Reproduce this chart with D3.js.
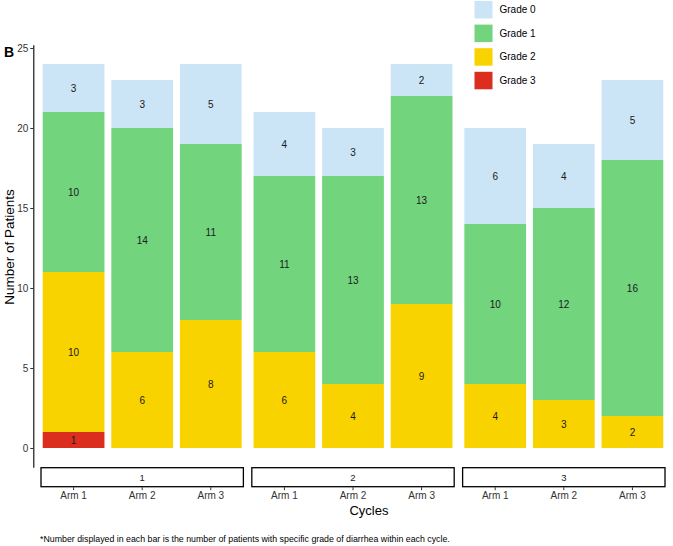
<!DOCTYPE html>
<html>
<head>
<meta charset="utf-8">
<script src="https://cdn.jsdelivr.net/npm/d3@7"></script>
<style>
  body { margin: 0; background: #fff; }
  svg { display: block; font-family: "Liberation Sans", Arial, sans-serif; }
</style>
</head>
<body>
<svg id="chart" width="673" height="546"></svg>
<script>
// data
var cycles = ["1", "2", "3"];
var arms = ["Arm 1", "Arm 2", "Arm 3"];
var grades = ["Grade 0", "Grade 1", "Grade 2", "Grade 3"];
var gradeColors = ["#cce5f6", "#72d47d", "#f8d300", "#dc2e1f"];
var yTicks = [0, 5, 10, 15, 20, 25];

// per cycle, per arm
var grade0 = [[3, 3, 5], [4, 3, 2], [6, 4, 5]];
var grade1 = [[10, 14, 11], [11, 13, 13], [10, 12, 16]];
var grade2 = [[10, 6, 8], [6, 4, 9], [4, 3, 2]];
var grade3 = [[1, 0, 0], [0, 0, 0], [0, 0, 0]];

var rows = [];
cycles.forEach(function(c, i) {
  arms.forEach(function(a, j) {
    rows.push({
      cycle: c, arm: a,
      "Grade 0": grade0[i][j], "Grade 1": grade1[i][j],
      "Grade 2": grade2[i][j], "Grade 3": grade3[i][j]
    });
  });
});

var svg = d3.select("#chart");
var color = d3.scaleOrdinal().domain(grades).range(gradeColors);

var facet = d3.scaleBand().domain(cycles).range([41, 665]).paddingInner(0.04);
var x = d3.scaleBand().domain(arms).range([0, facet.bandwidth()])
  .paddingInner(0.1).paddingOuter(0.025);
var y = d3.scaleLinear().domain([-1.2, 25.2]).range([467.2, 44.8]);

var series = d3.stack().keys(["Grade 3", "Grade 2", "Grade 1", "Grade 0"])(rows);

// bars
var g = svg.append("g");
series.forEach(function(s) {
  g.selectAll(null)
    .data(s.filter(function(d) { return d[1] > d[0]; }))
    .join("rect")
    .attr("x", function(d) { return facet(d.data.cycle) + x(d.data.arm); })
    .attr("width", x.bandwidth())
    .attr("y", function(d) { return y(d[1]); })
    .attr("height", function(d) { return y(d[0]) - y(d[1]); })
    .attr("fill", color(s.key));
});
series.forEach(function(s) {
  g.selectAll(null)
    .data(s.filter(function(d) { return d[1] > d[0]; }))
    .join("text")
    .attr("x", function(d) { return facet(d.data.cycle) + x(d.data.arm) + x.bandwidth() / 2; })
    .attr("y", function(d) { return y((d[0] + d[1]) / 2); })
    .attr("dy", "0.35em")
    .attr("text-anchor", "middle")
    .attr("font-size", 10)
    .attr("fill", "#1a1a1a")
    .text(function(d) { return d[1] - d[0]; });
});

// y axis
var yAxis = svg.append("g")
  .attr("transform", "translate(33.3,0)")
  .call(d3.axisLeft(y).tickValues(yTicks).tickSize(3).tickSizeOuter(0).tickPadding(2));
yAxis.select(".domain").attr("stroke", "#000").attr("stroke-width", 1.1);
yAxis.selectAll(".tick line").attr("stroke", "#333");
yAxis.selectAll(".tick text").attr("font-size", 10).attr("fill", "#333")
  .attr("font-family", "Liberation Sans, Arial, sans-serif");

// strips + x axis per facet
cycles.forEach(function(c) {
  var fx = facet(c);
  svg.append("rect")
    .attr("x", fx).attr("y", 467.7)
    .attr("width", facet.bandwidth()).attr("height", 19)
    .attr("fill", "#fff").attr("stroke", "#000").attr("stroke-width", 1.3);
  svg.append("text")
    .attr("x", fx + facet.bandwidth() / 2).attr("y", 477.2)
    .attr("dy", "0.35em").attr("text-anchor", "middle")
    .attr("font-size", 9.5).attr("fill", "#1a1a1a")
    .text(c);
  var xa = svg.append("g")
    .attr("transform", "translate(" + fx + ",487.2)")
    .call(d3.axisBottom(x).tickSize(3).tickPadding(2));
  xa.select(".domain").remove();
  xa.selectAll(".tick line").attr("stroke", "#333");
  xa.selectAll(".tick text").attr("font-size", 10).attr("fill", "#333")
    .attr("font-family", "Liberation Sans, Arial, sans-serif");
});

// titles
svg.append("text")
  .attr("x", 369).attr("y", 514.5)
  .attr("text-anchor", "middle").attr("font-size", 13).attr("fill", "#000")
  .text("Cycles");

svg.append("text")
  .attr("transform", "translate(14,247) rotate(-90)")
  .attr("text-anchor", "middle").attr("font-size", 13.5).attr("fill", "#000")
  .text("Number of Patients");

svg.append("text")
  .attr("x", 4).attr("y", 56.7)
  .attr("font-size", 14).attr("font-weight", "bold")
  .text("B");

svg.append("text")
  .attr("x", 40).attr("y", 542)
  .attr("font-size", 8.8).attr("fill", "#000")
  .text("*Number displayed in each bar is the number of patients with specific grade of diarrhea within each cycle.");

// legend
var legend = svg.append("g").attr("transform", "translate(474.5,1)");
grades.forEach(function(k, i) {
  legend.append("rect")
    .attr("x", 0).attr("y", i * 23.6)
    .attr("width", 18).attr("height", 17.5)
    .attr("fill", color(k));
  legend.append("text")
    .attr("x", 25).attr("y", i * 23.6 + 8.75)
    .attr("dy", "0.35em").attr("font-size", 10).attr("fill", "#000")
    .text(k);
});
</script>
</body>
</html>
